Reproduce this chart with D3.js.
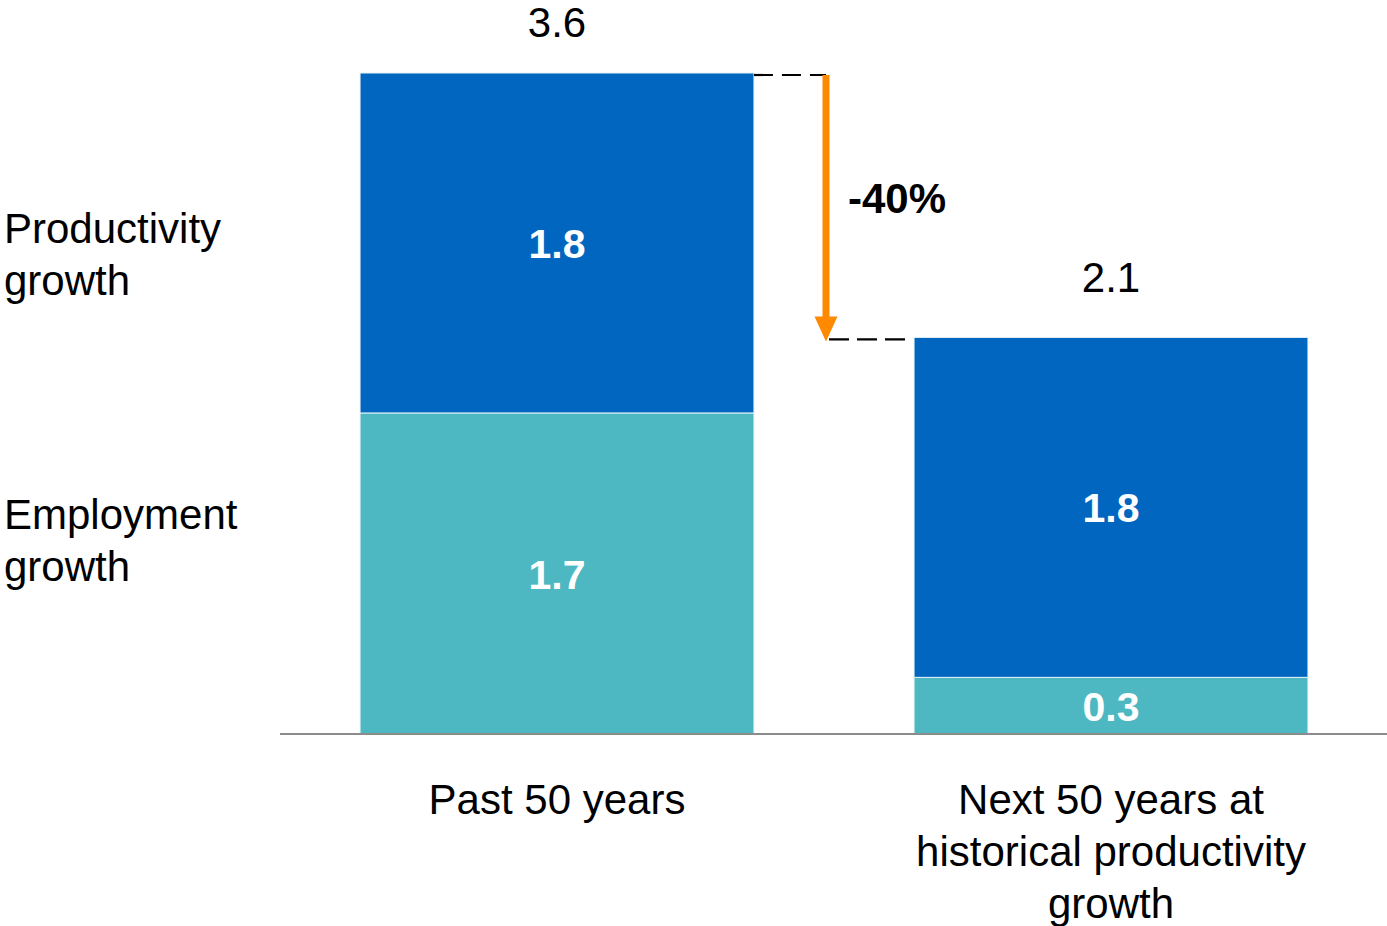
<!DOCTYPE html>
<html>
<head>
<meta charset="utf-8">
<script src="https://cdn.jsdelivr.net/npm/d3@7/dist/d3.min.js"></script>
<style>
  html, body { margin: 0; padding: 0; background: #fff; }
  svg { display: block; font-family: "Liberation Sans", Arial, Helvetica, sans-serif; }
</style>
</head>
<body>
<svg id="chart" width="1387" height="926"></svg>
<script>
// GDP growth decomposition, % per year
const categories = ["Past 50 years", "Next 50 years at historical productivity growth"];
const categoryLines = [["Past 50 years"], ["Next 50 years at", "historical productivity", "growth"]];
const employmentGrowth = [1.7, 0.3];
const productivityGrowth = [1.8, 1.8];
const totalLabels = ["3.6", "2.1"];
const changeLabel = "-40%";
const seriesNames = [["Productivity", "growth"], ["Employment", "growth"]];

const W = 1387, H = 926;
const baseY = 734;
const fs = 42;

const svg = d3.select("#chart");

const x = d3.scaleBand()
  .domain(categories)
  .range([280, 1388])
  .paddingInner(0.289)
  .paddingOuter(0.1445);

const y = d3.scaleLinear()
  .domain([0, 3.5])
  .range([baseY, 73]);

const colors = { employment: "#4db8c2", productivity: "#0066bf" };

const rows = categories.map((c, i) => ({
  cat: c,
  lines: categoryLines[i],
  emp: employmentGrowth[i],
  prod: productivityGrowth[i],
  total: totalLabels[i]
}));

const stack = d3.stack().keys(["emp", "prod"])(rows);
const keyColor = { emp: colors.employment, prod: colors.productivity };

// stacked segments
stack.forEach(layer => {
  svg.append("g").selectAll("rect")
    .data(layer)
    .join("rect")
    .attr("x", d => x(d.data.cat))
    .attr("width", x.bandwidth())
    .attr("y", d => y(d[1]))
    .attr("height", d => y(d[0]) - y(d[1]))
    .attr("fill", keyColor[layer.key])
    .attr("stroke", "#e6f2f8")
    .attr("stroke-width", 1);

  // value labels inside segments
  svg.append("g").selectAll("text")
    .data(layer)
    .join("text")
    .attr("x", d => x(d.data.cat) + x.bandwidth() / 2)
    .attr("y", d => (y(d[0]) + y(d[1])) / 2 + fs * 0.36)
    .attr("text-anchor", "middle")
    .attr("font-size", fs - 1)
    .attr("font-weight", "bold")
    .attr("fill", "#fff")
    .text(d => d3.format(".1f")(d.data[layer.key]));
});

// baseline
svg.append("line")
  .attr("x1", 280).attr("x2", W)
  .attr("y1", baseY).attr("y2", baseY)
  .attr("stroke", "#8c8c8c")
  .attr("stroke-width", 2);

// totals above bars
const tops = rows.map(r => y(r.emp + r.prod));
svg.append("g").selectAll("text")
  .data(rows)
  .join("text")
  .attr("x", d => x(d.cat) + x.bandwidth() / 2)
  .attr("y", (d, i) => Math.max(tops[i] - 45, 37))
  .attr("text-anchor", "middle")
  .attr("font-size", fs)
  .attr("fill", "#000")
  .text(d => d.total);

// category labels
rows.forEach(r => {
  const t = svg.append("text")
    .attr("text-anchor", "middle")
    .attr("font-size", fs)
    .attr("fill", "#000");
  r.lines.forEach((ln, j) => {
    t.append("tspan")
      .attr("x", x(r.cat) + x.bandwidth() / 2)
      .attr("y", 814 + j * 52)
      .text(ln);
  });
});

// series names on the left
const legendY = [243, 529];
seriesNames.forEach((lines, i) => {
  const t = svg.append("text").attr("font-size", fs).attr("fill", "#000");
  lines.forEach((ln, j) => {
    t.append("tspan").attr("x", 4).attr("y", legendY[i] + j * 52).text(ln);
  });
});

// change annotation between the two totals
const bar1Right = x(categories[0]) + x.bandwidth();
const bar2Left = x(categories[1]);
const gap = bar2Left - bar1Right;
const ax = bar1Right + gap * 0.45;
const yA = tops[0] + 2, yB = tops[1] + 2;

svg.append("line")
  .attr("x1", bar1Right).attr("x2", ax)
  .attr("y1", yA).attr("y2", yA)
  .attr("stroke", "#000").attr("stroke-width", 2.2)
  .attr("stroke-dasharray", "19,9");

svg.append("line")
  .attr("x1", ax + 3).attr("x2", bar2Left - 8)
  .attr("y1", yB).attr("y2", yB)
  .attr("stroke", "#000").attr("stroke-width", 2.2)
  .attr("stroke-dasharray", "20,8");

const headH = 23, headW = 23;
svg.append("line")
  .attr("x1", ax).attr("x2", ax)
  .attr("y1", yA).attr("y2", yB - headH + 2)
  .attr("stroke", "#ff8a00").attr("stroke-width", 7);

svg.append("path")
  .attr("d", d3.line()([[ax - headW / 2, yB - headH], [ax + headW / 2, yB - headH], [ax, yB + 2]]) + "Z")
  .attr("fill", "#ff8a00");

svg.append("text")
  .attr("x", ax + 22)
  .attr("y", (yA + yB) / 2 + 6)
  .attr("font-size", fs)
  .attr("font-weight", "bold")
  .attr("fill", "#000")
  .text(changeLabel);
</script>
</body>
</html>
